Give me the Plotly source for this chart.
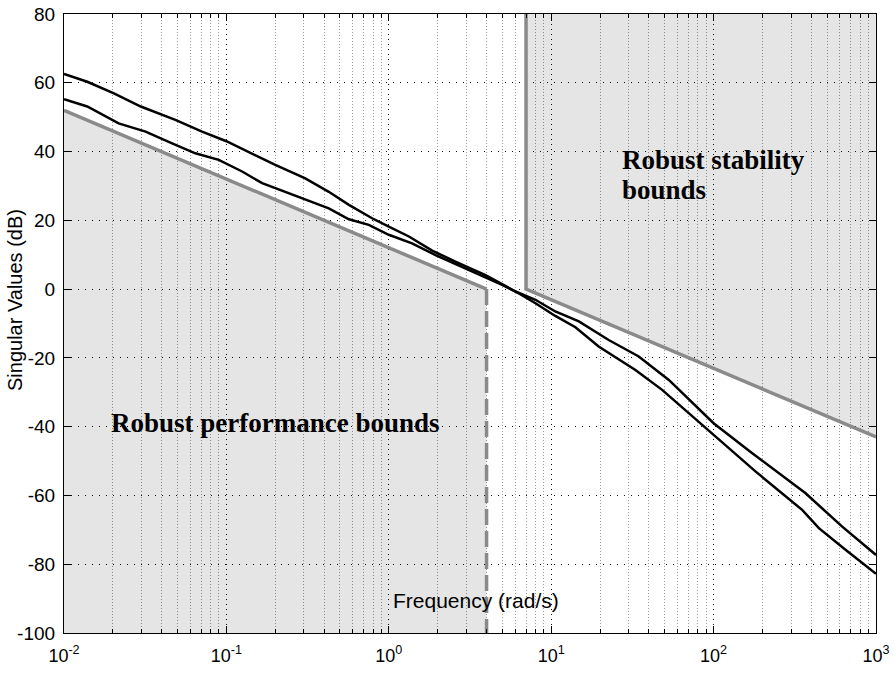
import plotly.graph_objects as go

# ---- data ----
freq_a = [0.01, 0.0139, 0.0203, 0.0297, 0.0485, 0.0708, 0.1, 0.125, 0.2, 0.306, 0.427, 0.568,
          0.789, 1.0, 1.33, 1.85, 2.57, 3.94, 4.99, 6.03, 8.0, 10.6, 14.8, 22.6, 34.6, 53.0,
          100, 173, 367, 617, 1000]
sv_a = [62.6, 60.3, 56.9, 53.1, 49.2, 45.8, 43.0, 40.7, 36.1, 32.2, 28.3, 24.5,
        20.6, 18.2, 15.3, 11.2, 8.0, 4.1, 1.5, -0.7, -3.1, -6.5, -9.4, -14.8, -19.6, -26.4,
        -39.0, -47.7, -59.3, -69.0, -77.3]

freq_b = [0.01, 0.0139, 0.0217, 0.0318, 0.0463, 0.0644, 0.0897, 0.125, 0.166, 0.242, 0.337,
          0.427, 0.568, 0.753, 1.0, 1.39, 1.94, 2.82, 4.33, 4.99, 6.03, 8.0, 10.6, 14.1, 19.6,
          33.0, 48.2, 84.9, 100, 181, 351, 445, 649, 1000]
sv_b = [55.2, 53.1, 48.2, 45.8, 42.4, 39.5, 37.6, 34.2, 30.8, 27.9, 25.4,
        23.5, 20.3, 18.7, 15.8, 13.3, 9.9, 6.5, 2.7, 1.2, -0.7, -4.1, -7.8, -11.1, -16.7,
        -23.5, -29.3, -39.5, -42.4, -53.0, -64.2, -69.5, -75.8, -82.8]

perf_freq = [0.01, 4.0]          # robust performance bound
perf_db = [52.0, 0.0]
stab_freq = [7.0, 7.0, 1000]     # robust stability bound
stab_db = [80.0, 0.0, -43.0]

y_min, y_max = -100, 80
x_ticks = [0.01, 0.1, 1, 10, 100, 1000]
x_ticktext = ["10<sup>-2</sup>", "10<sup>-1</sup>", "10<sup>0</sup>",
              "10<sup>1</sup>", "10<sup>2</sup>", "10<sup>3</sup>"]
y_ticks = [-100, -80, -60, -40, -20, 0, 20, 40, 60, 80]
y_ticktext = ["-100", "-80", "-60", "-40", "-20", "0", "20", "40", "60", "80"]
decades = [0.01, 0.1, 1, 10, 100]
digits = [2, 3, 4, 5, 6, 7, 8, 9]
minor_ticks = [d * k for d in decades for k in digits]

FILL = "rgba(0,0,0,0.10)"
BOUND = "#8a8a8a"

fig = go.Figure()

# filled regions
fig.add_trace(go.Scatter(
    x=[perf_freq[0]] + perf_freq + [perf_freq[-1]],
    y=[y_min] + perf_db + [y_min],
    fill="toself", fillcolor=FILL, mode="none", hoverinfo="skip", showlegend=False))
fig.add_trace(go.Scatter(
    x=stab_freq + [stab_freq[-1]],
    y=stab_db + [y_max],
    fill="toself", fillcolor=FILL, mode="none", hoverinfo="skip", showlegend=False))

# bound lines
fig.add_trace(go.Scatter(x=perf_freq, y=perf_db, mode="lines",
                         line=dict(color=BOUND, width=3.5), showlegend=False))
fig.add_trace(go.Scatter(x=[perf_freq[-1], perf_freq[-1]], y=[perf_db[-1], y_min], mode="lines",
                         line=dict(color=BOUND, width=3.5, dash="16px,6px"), showlegend=False))
fig.add_trace(go.Scatter(x=stab_freq, y=stab_db, mode="lines",
                         line=dict(color=BOUND, width=3.5), showlegend=False))

# singular value curves
fig.add_trace(go.Scatter(x=freq_a, y=sv_a, mode="lines",
                         line=dict(color="black", width=2.5), showlegend=False))
fig.add_trace(go.Scatter(x=freq_b, y=sv_b, mode="lines",
                         line=dict(color="black", width=2.5), showlegend=False))

SANS = "Liberation Sans, Arial, sans-serif"
SERIF = "Liberation Serif, Times New Roman, serif"
axis_font = dict(family=SANS, size=19, color="black")

fig.update_layout(
    width=894, height=675,
    margin=dict(l=64, r=18, t=14, b=42),
    paper_bgcolor="white", plot_bgcolor="white",
    font=axis_font,
    hovermode=False,
    xaxis=dict(
        type="log", range=[-2, 3], automargin=False,
        tickmode="array", tickvals=x_ticks, ticktext=x_ticktext,
        ticks="inside", ticklen=7, tickcolor="black", ticklabelstandoff=6,
        ticklabeloverflow="allow",
        showline=True, linecolor="black", linewidth=1.2, mirror="ticks",
        showgrid=True, gridcolor="#111", gridwidth=1, griddash="1px,4px",
        zeroline=False, tickfont=dict(family=SANS, size=18, color="black"),
        minor=dict(tickmode="array", tickvals=minor_ticks, ticks="inside", ticklen=4,
                   tickcolor="black", showgrid=True, gridcolor="#9a9a9a", gridwidth=1,
                   griddash="1px,2px"),
    ),
    yaxis=dict(
        range=[y_min, y_max], automargin=False,
        tickmode="array", tickvals=y_ticks, ticktext=y_ticktext,
        ticks="inside", ticklen=7, tickcolor="black", ticklabelstandoff=4,
        ticklabeloverflow="allow",
        showline=True, linecolor="black", linewidth=1.2, mirror="ticks",
        showgrid=True, gridcolor="#111", gridwidth=1, griddash="1px,6px",
        zeroline=False, tickfont=axis_font,
    ),
    annotations=[
        dict(text="Singular Values (dB)", xref="paper", yref="paper",
             x=-0.0603, y=0.538, xanchor="center", yanchor="middle", textangle=-90,
             showarrow=False, font=dict(family=SANS, size=20, color="black")),
        dict(text="<b>Robust performance bounds</b>", xref="paper", yref="paper",
             x=0.056, y=0.339, xanchor="left", yanchor="middle", showarrow=False,
             font=dict(family=SERIF, size=27, color="black")),
        dict(text="<b>Robust stability</b>", xref="paper", yref="paper",
             x=0.685, y=0.764, xanchor="left", yanchor="middle", showarrow=False,
             font=dict(family=SERIF, size=27, color="black")),
        dict(text="<b>bounds</b>", xref="paper", yref="paper",
             x=0.685, y=0.716, xanchor="left", yanchor="middle", showarrow=False,
             font=dict(family=SERIF, size=27, color="black")),
        dict(text="Frequency (rad/s)", xref="paper", yref="paper",
             x=0.403, y=0.0517, xanchor="left", yanchor="middle", showarrow=False,
             font=dict(family=SANS, size=21, color="black")),
    ],
)

fig.write_html("out.html", config={"displayModeBar": False},
               post_script="document.body.style.margin='0';")
